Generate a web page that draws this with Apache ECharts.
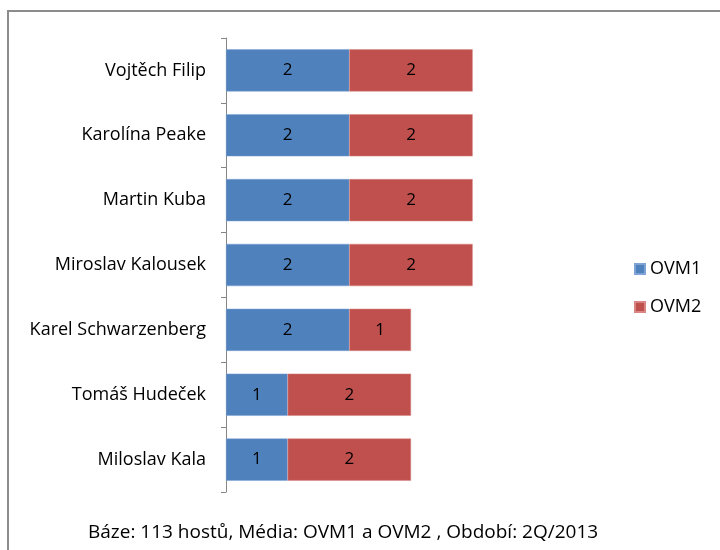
<!DOCTYPE html>
<html>
<head>
<meta charset="utf-8">
<script src="https://cdn.jsdelivr.net/npm/echarts@6/dist/echarts.min.js"></script>
<style>
  html, body { margin: 0; padding: 0; background: #fff; }
  #chart { width: 720px; height: 550px; }
</style>
</head>
<body>
<div id="chart"></div>
<script>
  // jména shora dolů
  var names = ['Vojtěch Filip', 'Karolína Peake', 'Martin Kuba', 'Miroslav Kalousek',
               'Karel Schwarzenberg', 'Tomáš Hudeček', 'Miloslav Kala']
  var ovm1 = [2, 2, 2, 2, 2, 1, 1]
  var ovm2 = [2, 2, 2, 2, 1, 2, 2]
  var footnote = 'Báze: 113 hostů, Média: OVM1 a OVM2 , Období: 2Q/2013'

  var font = '"Open Sans", "Noto Sans", sans-serif'
  var chart = echarts.init(document.getElementById('chart'))

  var label = {
    show: true,
    position: 'inside',
    color: '#000',
    fontSize: 17,
    fontFamily: font
  }

  chart.setOption({
    animation: false,
    color: ['#4F81BD', '#C0504D'],
    textStyle: { fontFamily: font },
    graphic: [
      {
        type: 'rect',
        shape: { x: 8, y: 11, width: 730, height: 560 },
        style: { fill: 'none', stroke: '#8c8c8c', lineWidth: 2 }
      },
      {
        type: 'text',
        left: 88,
        top: 523,
        style: { text: footnote, fontSize: 19, fontFamily: font, fill: '#000' }
      }
    ],
    legend: {
      orient: 'vertical',
      left: 629,
      top: 255,
      itemWidth: 10,
      itemHeight: 10,
      itemGap: 20,
      icon: 'rect',
      textStyle: { fontSize: 18, color: '#000', fontFamily: font },
      data: ['OVM1', 'OVM2']
    },
    grid: {  // vzdálenost grafu od okraje
      left: 226,
      top: 38,
      width: 370,
      bottom: 58
    },
    xAxis: {
      type: 'value',
      min: 0,
      max: 6,
      show: false
    },
    yAxis: {
      type: 'category',
      inverse: true,
      data: names,
      axisLine: { show: true, lineStyle: { color: '#868686', width: 1 } },
      axisTick: { show: true, length: 5, lineStyle: { color: '#868686' } },
      axisLabel: { color: '#000', fontSize: 18, fontFamily: font, margin: 20 }
    },
    series: [
      {
        name: 'OVM1',
        type: 'bar',
        stack: 'total',
        barCategoryGap: '35%',
        label: label,
        itemStyle: { borderColor: '#7fa3d4', borderWidth: 0.5 },
        data: ovm1
      },
      {
        name: 'OVM2',
        type: 'bar',
        stack: 'total',
        barCategoryGap: '35%',
        label: label,
        itemStyle: { borderColor: '#d88583', borderWidth: 0.5 },
        data: ovm2
      }
    ]
  })
</script>
</body>
</html>
